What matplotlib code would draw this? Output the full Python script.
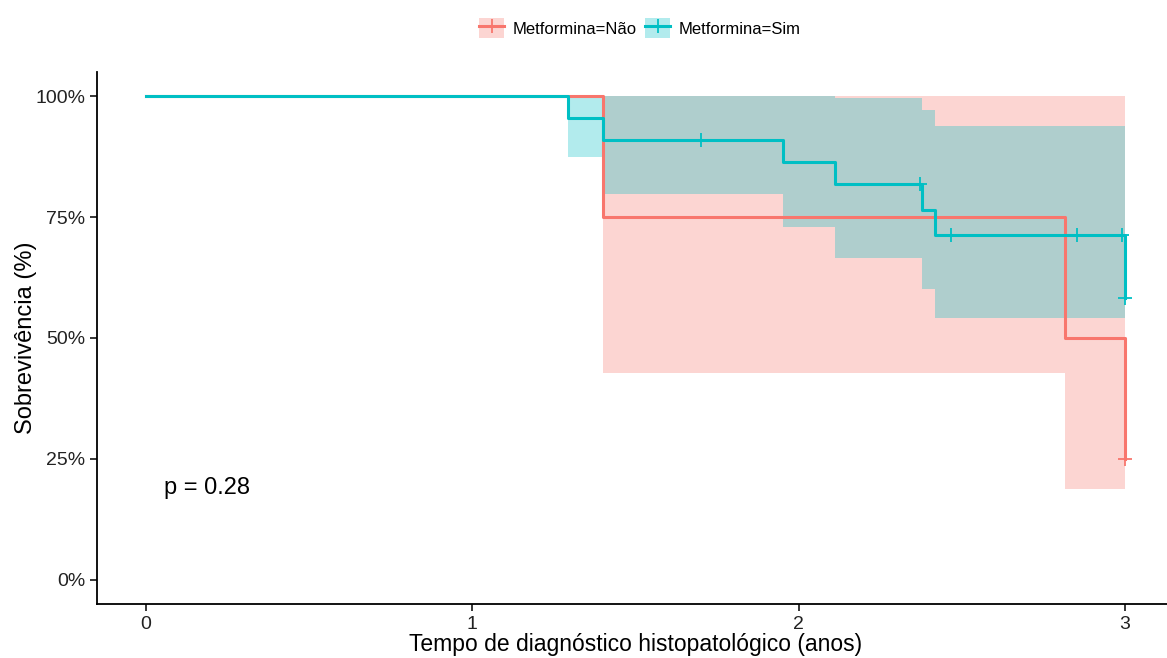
import numpy as np
import matplotlib.pyplot as plt
from matplotlib.lines import Line2D
from matplotlib.patches import Patch

plt.rcParams['font.family'] = ['Liberation Sans', 'DejaVu Sans']

# Curva Kaplan-Meier: Metformina = Não
nao_t = [0.0, 1.40, 2.816, 3.0]
nao_s = [1.0, 0.75, 0.50, 0.25]
nao_up = [1.0, 1.0, 1.0]
nao_lo = [1.0, 0.428, 0.188]
nao_cens_t = [3.0]
nao_cens_s = [0.25]

# Curva Kaplan-Meier: Metformina = Sim
sim_t = [0.0, 1.294, 1.399, 1.951, 2.11, 2.377, 2.417, 3.0]
sim_s = [1.0, 0.955, 0.909, 0.864, 0.818, 0.764, 0.713, 0.583]
sim_up = [1.0, 1.0, 1.0, 1.0, 0.997, 0.971, 0.938]
sim_lo = [1.0, 0.874, 0.798, 0.729, 0.665, 0.601, 0.541]
sim_cens_t = [1.70, 2.371, 2.466, 2.853, 2.99, 3.0]
sim_cens_s = [0.909, 0.818, 0.713, 0.713, 0.713, 0.583]

RED = '#F8766D'
TEAL = '#00BFC4'

fig = plt.figure(figsize=(11.67, 6.58), dpi=100)
ax = fig.add_axes([97 / 1167, 1 - 604 / 658, 1077 / 1167, 532 / 658])


def draw_curve(t, s, up, lo, ct, cs, color):
    # faixa de confiança em degraus
    ax.fill_between(t[:-1] + [t[-1]], up + [up[-1]], lo + [lo[-1]],
                    step='post', color=color, alpha=0.3, linewidth=0)
    ax.step(t, s, where='post', color=color, linewidth=2.2)
    ax.plot(ct, cs, linestyle='none', marker='+', markersize=10,
            markeredgewidth=1.3, color=color)


draw_curve(nao_t, nao_s, nao_up, nao_lo, nao_cens_t, nao_cens_s, RED)
draw_curve(sim_t, sim_s, sim_up, sim_lo, sim_cens_t, sim_cens_s, TEAL)

ax.text(0.055, 0.19, 'p = 0.28', fontsize=17, ha='left', va='center')

ax.set_xlim(-0.15, 3.15)
ax.set_ylim(-0.05, 1.05)
ax.set_xticks([0, 1, 2, 3])
ax.set_yticks([0, 0.25, 0.5, 0.75, 1.0])
ax.set_yticklabels(['0%', '25%', '50%', '75%', '100%'])
ax.tick_params(labelsize=14, length=5, width=1.1, color='black', labelcolor='#222222')
for side in ['top', 'right']:
    ax.spines[side].set_visible(False)
for side in ['left', 'bottom']:
    ax.spines[side].set_linewidth(1.3)

ax.set_xlabel('Tempo de diagnóstico histopatológico (anos)', fontsize=16.5, labelpad=0.5)
ax.set_ylabel('Sobrevivência (%)', fontsize=17, labelpad=-1.5)

handles = [
    (Patch(facecolor=RED, alpha=0.3, edgecolor='none'),
     Line2D([], [], color=RED, linewidth=2.2, marker='+', markersize=10, markeredgewidth=1.3)),
    (Patch(facecolor=TEAL, alpha=0.3, edgecolor='none'),
     Line2D([], [], color=TEAL, linewidth=2.2, marker='+', markersize=10, markeredgewidth=1.3)),
]
fig.legend(handles, ['Metformina=Não', 'Metformina=Sim'], loc='center',
           bbox_to_anchor=(640 / 1167, 1 - 28 / 658), ncol=2, frameon=False,
           fontsize=12, handlelength=1.5, handleheight=1.5, columnspacing=0.5,
           handletextpad=0.5)

fig.savefig('out.png', dpi=100)
